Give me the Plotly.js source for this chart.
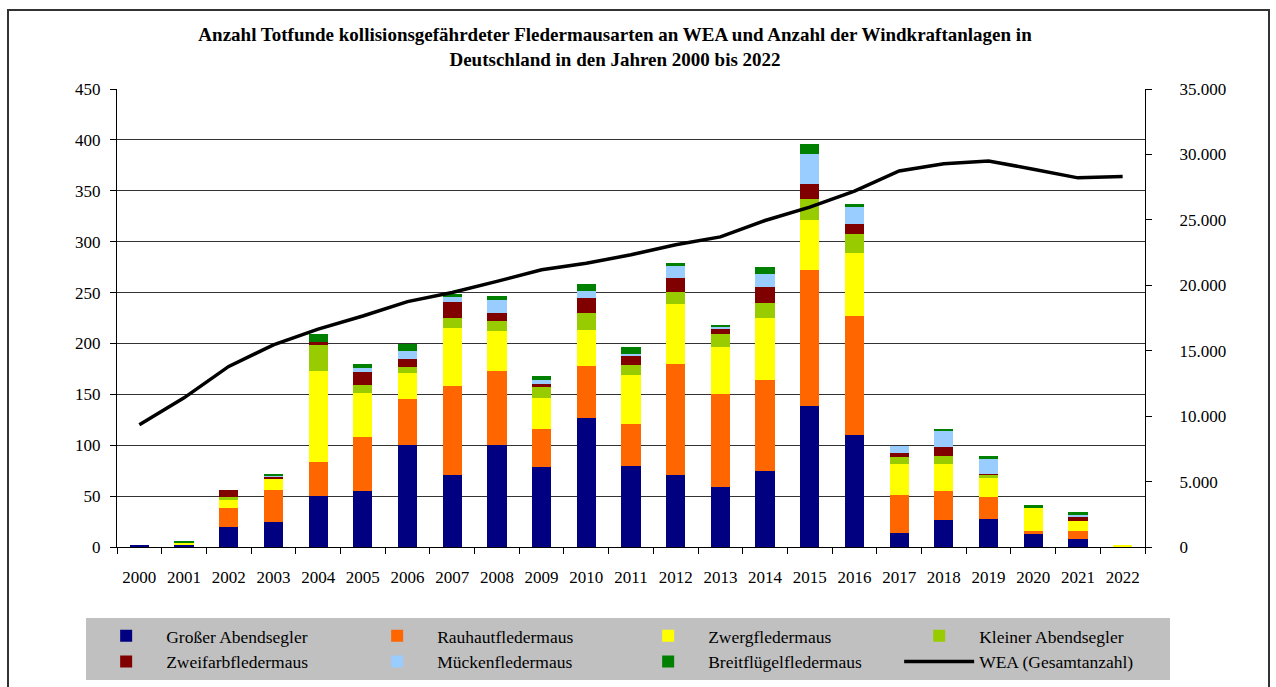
<!DOCTYPE html>
<html>
<head>
<meta charset="utf-8">
<script src="https://cdn.plot.ly/plotly-3.0.1.min.js"></script>
<style>
  body { margin: 0; background: #fff; overflow: hidden; }
  #chart { width: 1276px; height: 687px; }
  #frame { position: absolute; left: 7px; top: 9px; width: 1259px; height: 700px;
           border: 2px solid #333; pointer-events: none; }
</style>
</head>
<body>
<div id="chart"></div>
<div id="frame"></div>
<script>
var years = ['2000', '2001', '2002', '2003', '2004', '2005', '2006', '2007', '2008', '2009', '2010', '2011',
             '2012', '2013', '2014', '2015', '2016', '2017', '2018', '2019', '2020', '2021', '2022'];

// Totfunde je Art
var grosserAbendsegler   = [2, 2, 20, 25, 50, 55, 100, 71, 100, 79, 127, 80, 71, 59, 75, 139, 110, 14, 27, 28, 13, 8, 0];
var rauhautfledermaus    = [0, 0, 18, 31, 34, 53, 45, 87, 73, 37, 51, 41, 109, 91, 89, 133, 117, 37, 28, 21, 3, 8, 0];
var zwergfledermaus      = [0, 2, 8, 11, 89, 43, 26, 57, 39, 30, 35, 48, 59, 47, 61, 49, 62, 31, 27, 19, 22, 10, 2];
var kleinerAbendsegler   = [0, 0, 3, 0, 25, 8, 6, 10, 10, 11, 17, 10, 12, 12, 15, 21, 19, 6, 7, 3, 0, 0, 0];
var zweifarbfledermaus   = [0, 0, 7, 2, 3, 13, 8, 16, 8, 3, 15, 9, 13, 5, 15, 15, 9, 4, 9, 1, 0, 3, 0];
var mueckenfledermaus    = [0, 0, 0, 1, 0, 4, 8, 5, 13, 4, 7, 2, 12, 2, 13, 29, 17, 7, 16, 14, 0, 2, 0];
var breitfluegelfledermaus = [0, 2, 0, 2, 8, 4, 6, 3, 4, 4, 6, 7, 3, 2, 7, 10, 3, 0, 2, 3, 3, 3, 0];

// Windkraftanlagen (Gesamtanzahl)
var weaGesamt = [9350, 11400, 13800, 15450, 16650, 17650, 18750, 19450, 20300, 21180, 21690, 22330,
                 23100, 23700, 24950, 25970, 27200, 28740, 29280, 29500, 28870, 28210, 28310];

var seriesNames = ['Großer Abendsegler', 'Rauhautfledermaus', 'Zwergfledermaus', 'Kleiner Abendsegler',
                   'Zweifarbfledermaus', 'Mückenfledermaus', 'Breitflügelfledermaus'];
var seriesValues = [grosserAbendsegler, rauhautfledermaus, zwergfledermaus, kleinerAbendsegler,
                    zweifarbfledermaus, mueckenfledermaus, breitfluegelfledermaus];
var seriesColors = ['#000080', '#FF6600', '#FFFF00', '#99CC00', '#800000', '#99CCFF', '#008000'];

var traces = seriesNames.map(function (name, i) {
    return {
        x: years,
        y: seriesValues[i],
        type: 'bar',
        name: name,
        marker: { color: seriesColors[i] },
        yaxis: 'y'
    };
});

traces.push({
    x: years,
    y: weaGesamt,
    type: 'scatter',
    mode: 'lines',
    name: 'WEA (Gesamtanzahl)',
    line: { color: '#000', width: 3.5 },
    yaxis: 'y2'
});

var serif = 'Liberation Serif, Times New Roman, serif';

var layout = {
    width: 1276,
    height: 687,
    barmode: 'stack',
    bargap: 0.57,
    separators: ',.',
    font: { family: serif, size: 17, color: '#000' },
    paper_bgcolor: 'white',
    plot_bgcolor: 'white',
    margin: { l: 117, r: 131, t: 89, b: 140, autoexpand: false },
    title: {
        text: '<b>Anzahl Totfunde kollisionsgefährdeter Fledermausarten an WEA und Anzahl der Windkraftanlagen in<br>Deutschland in den Jahren 2000 bis 2022</b>',
        font: { family: serif, size: 19 },
        x: 0.482,
        xanchor: 'center',
        y: 0.94,
        yanchor: 'top'
    },
    xaxis: {
        type: 'category',
        tickson: 'boundaries',
        ticks: 'outside',
        ticklen: 6,
        tickcolor: '#000',
        showline: true,
        linecolor: '#000',
        linewidth: 1,
        showgrid: false,
        ticklabelstandoff: 15,
        tickfont: { family: serif, size: 17 }
    },
    yaxis: {
        range: [0, 450],
        dtick: 50,
        ticks: 'outside',
        ticklen: 6,
        tickcolor: '#000',
        showline: true,
        linecolor: '#000',
        linewidth: 1,
        gridcolor: '#333',
        gridwidth: 1,
        zeroline: false,
        ticklabelstandoff: 6,
        tickfont: { family: serif, size: 17 }
    },
    yaxis2: {
        overlaying: 'y',
        side: 'right',
        range: [0, 35000],
        dtick: 5000,
        tickformat: ',.0f',
        ticks: 'outside',
        ticklen: 6,
        tickcolor: '#000',
        showline: true,
        linecolor: '#000',
        linewidth: 1,
        showgrid: false,
        zeroline: false,
        ticklabelstandoff: 24,
        tickfont: { family: serif, size: 17 }
    },
    showlegend: true,
    legend: {
        orientation: 'h',
        traceorder: 'normal',
        x: -0.03,
        xanchor: 'left',
        y: -0.155,
        yanchor: 'top',
        bgcolor: '#C0C0C0',
        borderwidth: 0,
        itemwidth: 70,
        entrywidth: 186,
        entrywidthmode: 'pixels',
        font: { family: serif, size: 17.5 }
    }
};

Plotly.newPlot('chart', traces, layout, { displayModeBar: false, staticPlot: true });
</script>
</body>
</html>
